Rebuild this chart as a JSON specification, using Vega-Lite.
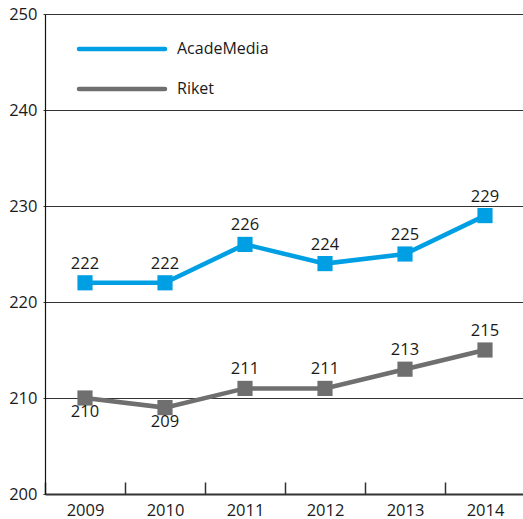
{
  "$schema": "https://vega.github.io/schema/vega-lite/v6.json",
  "width": 480,
  "height": 480,
  "autosize": {"type": "none"},
  "padding": {"left": 45, "top": 14, "right": 0, "bottom": 25},
  "background": "white",
  "config": {
    "view": {"stroke": null},
    "font": "Open Sans",
    "text": {"font": "Open Sans", "fontSize": 16, "color": "#1a1a1a"}
  },
  "data": {
    "values": [
      {"year": "2009", "series": "AcadeMedia", "value": 222},
      {"year": "2010", "series": "AcadeMedia", "value": 222},
      {"year": "2011", "series": "AcadeMedia", "value": 226},
      {"year": "2012", "series": "AcadeMedia", "value": 224},
      {"year": "2013", "series": "AcadeMedia", "value": 225},
      {"year": "2014", "series": "AcadeMedia", "value": 229},
      {"year": "2009", "series": "Riket", "value": 210},
      {"year": "2010", "series": "Riket", "value": 209},
      {"year": "2011", "series": "Riket", "value": 211},
      {"year": "2012", "series": "Riket", "value": 211},
      {"year": "2013", "series": "Riket", "value": 213},
      {"year": "2014", "series": "Riket", "value": 215}
    ]
  },
  "encoding": {
    "x": {
      "field": "year", "type": "ordinal",
      "scale": {"type": "band", "paddingInner": 0, "paddingOuter": 0},
      "axis": {
        "title": null, "labelAngle": 0, "labelFontSize": 16.5, "labelFont": "Open Sans",
        "labelColor": "#1a1a1a", "labelPadding": 20,
        "tickBand": "extent", "tickSize": -12, "tickColor": "#333", "tickWidth": 1.5,
        "domainColor": "#333", "domainWidth": 2, "grid": false
      }
    },
    "y": {
      "field": "value", "type": "quantitative",
      "scale": {"domain": [200, 250], "nice": false, "zero": false},
      "axis": {
        "title": null, "values": [200, 210, 220, 230, 240, 250],
        "labelFontSize": 16.5, "labelFont": "Open Sans", "labelColor": "#1a1a1a",
        "labelPadding": 6, "tickSize": 2, "tickColor": "#333",
        "domainColor": "#111", "domainWidth": 1.2,
        "grid": true, "gridColor": "#333", "gridWidth": 1.2, "gridOpacity": 1
      }
    },
    "color": {
      "field": "series", "type": "nominal",
      "scale": {"domain": ["AcadeMedia", "Riket"], "range": ["#009fe3", "#6f6f6f"]},
      "legend": {
        "title": null, "orient": "none", "legendX": 64, "legendY": 22,
        "symbolType": "M-4,0H4", "symbolSize": 462, "symbolStrokeWidth": 4.5,
        "labelFontSize": 16, "labelFont": "Open Sans", "labelColor": "#1a1a1a",
        "labelOffset": 42, "rowPadding": 18,
        "encode": {"symbols": {"update": {"strokeCap": {"value": "round"}}}}
      }
    }
  },
  "layer": [
    {"mark": {"type": "line", "strokeWidth": 4.5}},
    {"mark": {"type": "point", "shape": "square", "filled": true, "size": 230, "opacity": 1}},
    {
      "transform": [{"filter": "!(datum.series === 'Riket' && (datum.year === '2009' || datum.year === '2010'))"}],
      "mark": {"type": "text", "dy": -19, "baseline": "middle", "fontSize": 16.5, "color": "#1a1a1a"},
      "encoding": {"text": {"field": "value", "type": "quantitative"}, "color": {"value": "#1a1a1a"}}
    },
    {
      "transform": [{"filter": "datum.series === 'Riket' && (datum.year === '2009' || datum.year === '2010')"}],
      "mark": {"type": "text", "dy": 14, "baseline": "middle", "fontSize": 16.5, "color": "#1a1a1a"},
      "encoding": {"text": {"field": "value", "type": "quantitative"}, "color": {"value": "#1a1a1a"}}
    }
  ]
}
